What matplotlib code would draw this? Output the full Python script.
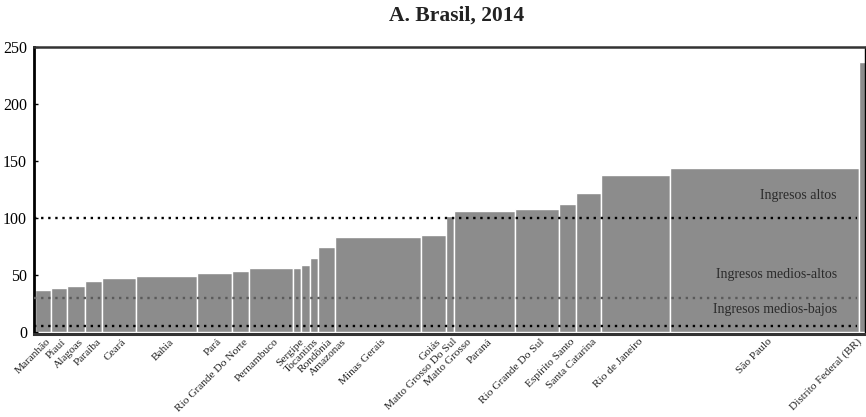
import numpy as np
import matplotlib
matplotlib.use('Agg')
import matplotlib.pyplot as plt

plt.rcParams['font.family'] = ['Liberation Serif', 'DejaVu Serif']

# estados ordenados por indice (Brasil = 100 en ingresos altos)
estados = ['Maranhão', 'Piauí', 'Alagoas', 'Paraíba', 'Ceará', 'Bahia', 'Pará',
           'Rio Grande Do Norte', 'Pernambuco', 'Sergipe', 'Tocantins', 'Rondônia',
           'Amazonas', 'Minas Gerais', 'Goiás', 'Matto Grosso Do Sul', 'Paraná',
           'Rio Grande Do Sul', 'Espírito Santo', 'Santa Catarina', 'Rio de Janeiro',
           'São Paulo', 'Distrito Federal (BR)']
indice = [37, 38.9, 40.3, 44.7, 47.4, 48.8, 51.7, 53.5, 56.1, 56, 58.8, 64.6,
          74.6, 83, 84.8, 102, 106, 107.6, 112.3, 122.2, 138, 143.6, 237]
peso = [15.5, 16.5, 18, 16.5, 34.5, 61, 34.5, 17, 44, 8.5, 8.5, 8, 17.5, 86,
        24.5, 8.5, 61, 43.5, 17.5, 25, 69, 188.5, 16.5]
# etiqueta sin barra propia en el original
etiqueta_extra = 'Matto Grosso'

umbrales = [100, 30, 5.5]
umbral_color = ['black', '#5a5a5a', 'black']
grupos = ['Ingresos altos', 'Ingresos medios-altos', 'Ingresos medios-bajos']
grupos_y = [119.5, 50, 20]

peso = np.array(peso)
izq = np.concatenate([[0], np.cumsum(peso)[:-1]])
centros = izq + peso / 2

fig = plt.figure(figsize=(8.66, 4.17), dpi=100)
ax = fig.add_axes([34 / 866, 85 / 417, 831 / 866, 285.3 / 417])

ax.spines['left'].set_linewidth(2)
ax.spines['left'].set_color('black')
ax.spines['bottom'].set_linewidth(2.2)
ax.spines['bottom'].set_color('#333333')
ax.spines['bottom'].set_position(('data', -1.5))
ax.spines['top'].set_linewidth(1.8)
ax.spines['top'].set_color('#333333')
ax.spines['right'].set_linewidth(1)
ax.spines['right'].set_color('black')

ax.bar(izq, indice, width=peso, align='edge', color='#8c8c8c',
       edgecolor='white', linewidth=1.0, clip_on=False, zorder=1)

fin = izq[-1]
for u, c in zip(umbrales, umbral_color):
    ax.plot([-1, fin - 1.5], [u, u], color=c, lw=1.7,
            linestyle=(0, (1, 2.0)), zorder=3)

for g, y in zip(grupos, grupos_y):
    ax.text(0.966, y, g, transform=ax.get_yaxis_transform(), ha='right',
            va='center', fontsize=10, color='#2a2a2a', zorder=4)

# posiciones de etiquetas: centro de cada barra, extra al inicio de Paraná
i_par = estados.index('Paraná')
ticks = list(centros + 3)
ticks.insert(i_par, izq[i_par] + 0.2 * peso[i_par])
nombres = estados[:i_par] + [etiqueta_extra] + estados[i_par:]
# separar etiquetas muy juntas y no salir por la derecha
for i in range(1, len(ticks)):
    ticks[i] = max(ticks[i], ticks[i - 1] + 14)
ticks[-1] = min(ticks[-1], 822)

ax.set_xlim(-1, 830)
ax.set_ylim(0, 250)
ax.tick_params(axis='x', length=0, pad=2.5)
ax.tick_params(axis='y', direction='in', length=3, width=1, labelsize=11.5,
               pad=5, colors='black')
ax.set_yticks([0, 50, 100, 150, 200, 250])
ax.set_xticks(ticks)
ax.set_xticklabels(nombres, fontsize=8.2, color='#222222', rotation=45,
                   ha='right', va='top', rotation_mode='anchor')

fig.text(457 / 866, 1 - 16 / 417, 'A. Brasil, 2014', ha='center', va='center',
         fontsize=15.5, fontweight='bold', color='#222222')

fig.savefig('out.png', dpi=100)
